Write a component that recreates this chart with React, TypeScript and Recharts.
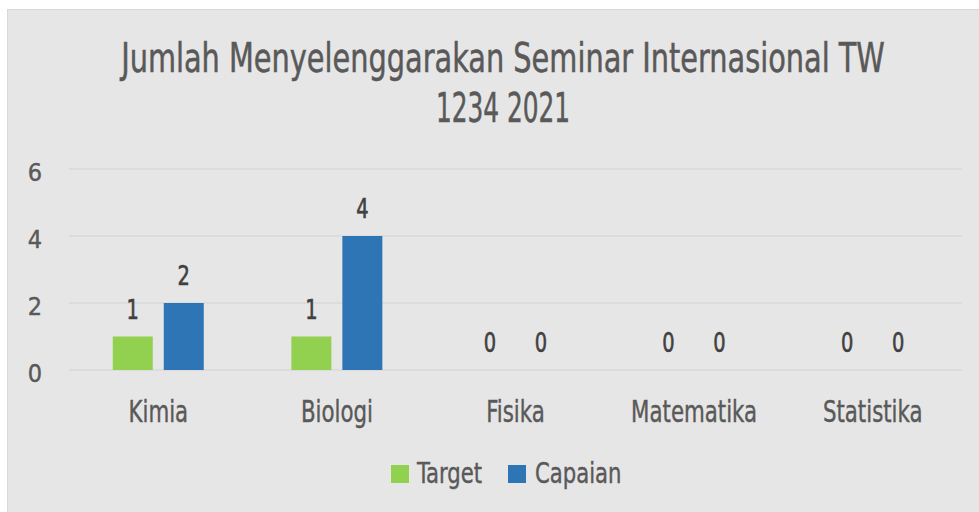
import { Bar, BarChart, CartesianGrid, LabelList, XAxis, YAxis } from "recharts";

const CATEGORIES = ["Kimia", "Biologi", "Fisika", "Matematika", "Statistika"];
const TARGET = [1, 1, 0, 0, 0];
const CAPAIAN = [2, 4, 0, 0, 0];
const Y_TICKS = [0, 2, 4, 6];
const TITLE_LINES = ["Jumlah Menyelenggarakan Seminar Internasional TW", "1234 2021"];

const SERIES = [
  { key: "Target", color: "#92d050" },
  { key: "Capaian", color: "#2e75b6" },
];

const data = CATEGORIES.map((name, i) => ({
  name,
  Target: TARGET[i],
  Capaian: CAPAIAN[i],
}));

const FONT = '"DejaVu Sans Condensed", "DejaVu Sans", sans-serif';
const AXIS_TEXT = "#595959";
const LABEL_TEXT = "#404040";

// the source uses a narrow DIN-like face, so text is squeezed horizontally
// and given a hairline stroke to get closer to its medium weight
const CategoryTick = ({ x, y, payload }: any) => (
  <text
    transform={`translate(${x},${y}) scale(0.79,1)`}
    textAnchor="middle"
    dy="0.71em"
    fill={AXIS_TEXT}
    stroke={AXIS_TEXT}
    strokeWidth={0.4}
    fontSize={30}
    fontFamily={FONT}
  >
    {payload.value}
  </text>
);

const ValueLabel = ({ x, y, width, value }: any) => (
  <text
    transform={`translate(${Number(x) + Number(width) / 2},${Number(y) - 18}) scale(0.8,1)`}
    textAnchor="middle"
    fill={LABEL_TEXT}
    stroke={LABEL_TEXT}
    strokeWidth={0.6}
    fontSize={27}
    fontFamily={FONT}
  >
    {value}
  </text>
);

export default function App() {
  return (
    <div
      style={{
        position: "fixed",
        left: 0,
        top: 0,
        width: 979,
        height: 512,
        overflow: "hidden",
        background: "#fff",
        fontFamily: FONT,
      }}
    >
      <div
        style={{
          position: "absolute",
          left: 7,
          top: 9,
          width: 990,
          height: 520,
          background: "#e7e6e6",
          border: "1px solid #d9d9d9",
        }}
      />

      <div
        style={{
          position: "absolute",
          left: 0,
          top: 33,
          width: 1006,
          textAlign: "center",
          color: AXIS_TEXT,
          fontSize: 40,
          lineHeight: "50px",
          WebkitTextStroke: `0.5px ${AXIS_TEXT}`,
        }}
      >
        <div style={{ transform: "scaleX(0.8)" }}>{TITLE_LINES[0]}</div>
        <div style={{ transform: "scaleX(0.69)" }}>{TITLE_LINES[1]}</div>
      </div>

      <div style={{ position: "absolute", left: 0, top: 0 }}>
        <BarChart
          width={979}
          height={512}
          data={data}
          margin={{ top: 169, right: 17, bottom: 82, left: 9 }}
          barCategoryGap="24.5%"
          barGap={11}
        >
          <CartesianGrid vertical={false} stroke="#d9d9d9" strokeWidth={1.5} />
          <XAxis
            dataKey="name"
            height={60}
            axisLine={false}
            tickLine={false}
            tickSize={0}
            tickMargin={31}
            tick={<CategoryTick />}
            interval={0}
          />
          <YAxis
            width={60}
            domain={[0, 6]}
            ticks={Y_TICKS}
            axisLine={false}
            tickLine={false}
            tickSize={0}
            tickMargin={27}
            tick={{
              fill: AXIS_TEXT,
              stroke: AXIS_TEXT,
              strokeWidth: 0.4,
              fontSize: 25,
              fontFamily: FONT,
              dy: 3,
            }}
          />
          {SERIES.map((s) => (
            <Bar
              key={s.key}
              dataKey={s.key}
              fill={s.color}
              minPointSize={0.01}
              isAnimationActive={false}
            >
              <LabelList dataKey={s.key} content={<ValueLabel />} />
            </Bar>
          ))}
        </BarChart>
      </div>

      {SERIES.map((s, i) => (
        <div key={s.key}>
          <span
            style={{
              position: "absolute",
              left: i === 0 ? 391 : 508,
              top: 465,
              width: 18,
              height: 18,
              background: s.color,
            }}
          />
          <span
            style={{
              position: "absolute",
              left: i === 0 ? 417 : 535,
              top: 455,
              color: AXIS_TEXT,
              fontSize: 28,
              lineHeight: "38px",
              whiteSpace: "nowrap",
              transform: "scaleX(0.84)",
              transformOrigin: "left center",
              WebkitTextStroke: `0.4px ${AXIS_TEXT}`,
            }}
          >
            {s.key}
          </span>
        </div>
      ))}
    </div>
  );
}
